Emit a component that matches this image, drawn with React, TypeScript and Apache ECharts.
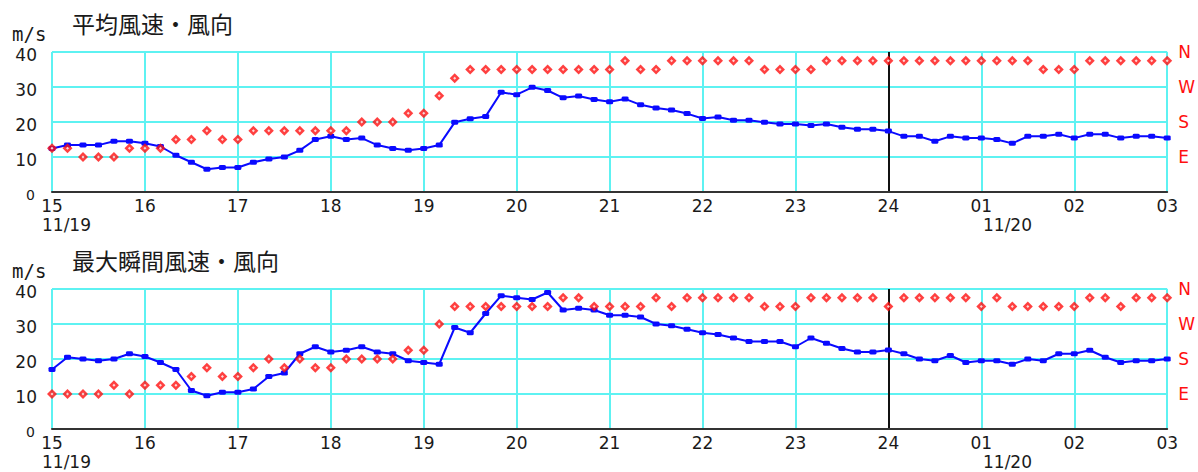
import React, { useEffect, useRef } from "react";
import * as echarts from "echarts";

// Hour tick labels (15:00 on 11/19 through 03:00 on 11/20)
const hourLabels = ["15", "16", "17", "18", "19", "20", "21", "22", "23", "24", "01", "02", "03"];
const minuteLabels = ["00", "10", "20", "30", "40", "50"];
const dateLabels = ["11/19", "11/20"];
const speedTicks = [0, 10, 20, 30, 40];
const dirNames: Record<number, string> = { 40: "N", 30: "W", 20: "S", 10: "E", 0: "" };

// 平均風速 (m/s), every 10 minutes
const avgSpeed = [
  12.4, 13.4, 13.4, 13.4, 14.5, 14.5, 13.9, 13.0, 10.5, 8.5,
  6.5, 7.0, 7.0, 8.5, 9.4, 10.0, 11.9, 15.0, 15.9, 15.0,
  15.4, 13.4, 12.4, 11.9, 12.4, 13.4, 19.9, 20.9, 21.6, 28.5,
  27.8, 29.9, 29.0, 26.9, 27.4, 26.4, 25.8, 26.6, 24.9, 24.0,
  23.4, 22.4, 21.0, 21.4, 20.5, 20.5, 19.9, 19.4, 19.4, 19.0,
  19.4, 18.5, 17.9, 17.9, 17.4, 15.9, 15.9, 14.5, 15.9, 15.4,
  15.4, 15.0, 13.9, 15.9, 15.9, 16.5, 15.4, 16.5, 16.5, 15.4,
  15.9, 15.9, 15.4,
];
// 平均風向 (E=10, S=20, W=30, N=40)
const avgDir = [
  12.5, 12.5, 10, 10, 10, 12.5, 12.5, 12.5, 15, 15,
  17.5, 15, 15, 17.5, 17.5, 17.5, 17.5, 17.5, 17.5, 17.5,
  20, 20, 20, 22.5, 22.5, 27.5, 32.5, 35, 35, 35,
  35, 35, 35, 35, 35, 35, 35, 37.5, 35, 35,
  37.5, 37.5, 37.5, 37.5, 37.5, 37.5, 35, 35, 35, 35,
  37.5, 37.5, 37.5, 37.5, 37.5, 37.5, 37.5, 37.5, 37.5, 37.5,
  37.5, 37.5, 37.5, 37.5, 35, 35, 35, 37.5, 37.5, 37.5,
  37.5, 37.5, 37.5,
];
// 最大瞬間風速 (m/s)
const gustSpeed = [
  17.0, 20.5, 20.0, 19.5, 20.0, 21.5, 20.7, 19.0, 17.0, 11.0,
  9.5, 10.5, 10.5, 11.4, 15.0, 16.0, 21.5, 23.5, 22.0, 22.5,
  23.5, 22.0, 21.5, 19.5, 19.0, 18.5, 29.0, 27.5, 33.0, 38.1,
  37.5, 37.0, 39.0, 34.0, 34.5, 34.0, 32.5, 32.5, 32.0, 30.0,
  29.5, 28.5, 27.5, 27.0, 26.0, 25.0, 25.0, 25.0, 23.5, 26.0,
  24.5, 23.0, 22.0, 22.0, 22.6, 21.5, 20.0, 19.5, 21.0, 19.0,
  19.5, 19.5, 18.5, 20.0, 19.5, 21.5, 21.5, 22.5, 20.5, 19.0,
  19.5, 19.5, 20.0,
];
// 最大瞬間風向
const gustDir = [
  10, 10, 10, 10, 12.5, 10, 12.5, 12.5, 12.5, 15,
  17.5, 15, 15, 17.5, 20, 17.5, 20, 17.5, 17.5, 20,
  20, 20, 20, 22.5, 22.5, 30, 35, 35, 35, 35,
  35, 35, 35, 37.5, 37.5, 35, 35, 35, 35, 37.5,
  35, 37.5, 37.5, 37.5, 37.5, 37.5, 35, 35, 35, 37.5,
  37.5, 37.5, 37.5, 37.5, 35, 37.5, 37.5, 37.5, 37.5, 37.5,
  35, 37.5, 35, 35, 35, 35, 35, 37.5, 37.5, 35,
  37.5, 37.5, 37.5,
];

const panelTitles = ["平均風速・風向", "最大瞬間風速・風向"];
const markerTime = "24:00";

const times: string[] = [];
for (let h = 0; h < hourLabels.length - 1; h++) {
  for (const m of minuteLabels) times.push(`${hourLabels[h]}:${m}`);
}
times.push(`${hourLabels[hourLabels.length - 1]}:00`);

const CYAN = "#5ef2f2";
const TXT = "#1a1a1a";
const FONT = "DejaVu Sans";
const RED = "#ff1010";
const BLUE = "#0a0aff";

export default function App() {
  const ref = useRef<HTMLDivElement>(null);
  useEffect(() => {
    if (!ref.current) return;
    const chart = echarts.init(ref.current, undefined, { renderer: "svg" });
    const grids = [
      { left: 52, width: 1121, top: 52, height: 140 },
      { left: 52, width: 1121, top: 289, height: 140 },
    ];
    const xAxes = grids.map((_, i) => ({
      type: "category",
      gridIndex: i,
      data: times,
      boundaryGap: false,
      axisLine: { show: true, lineStyle: { color: "#333", width: 2 } },
      axisTick: { show: false },
      axisLabel: {
        interval: 5,
        formatter: (v: string) => v.slice(0, 2),
        color: TXT,
        fontSize: 17,
        fontFamily: FONT,
        margin: 5,
      },
      splitLine: { show: true, interval: 5, lineStyle: { color: CYAN, width: 2 } },
      z: 3,
    }));
    const yAxes: any[] = [];
    grids.forEach((_, i) => {
      yAxes.push({
        type: "value",
        gridIndex: i,
        min: speedTicks[0],
        max: speedTicks[speedTicks.length - 1],
        interval: 10,
        axisLine: { show: false },
        axisTick: { show: false },
        splitLine: { show: true, lineStyle: { color: CYAN, width: 2 } },
        axisLabel: {
          color: TXT,
          fontSize: 17,
          fontFamily: FONT,
          margin: 15,
          padding: [6, 0, 0, 0],
          formatter: (v: number) => (v === 0 ? "{z|0}" : String(v)),
          rich: { z: { fontSize: 14, fontFamily: FONT, color: TXT, padding: [0, 2, 0, 0] } },
        },
      });
      yAxes.push({
        type: "value",
        gridIndex: i,
        position: "right",
        min: speedTicks[0],
        max: speedTicks[speedTicks.length - 1],
        interval: 10,
        axisLine: { show: false },
        axisTick: { show: false },
        splitLine: { show: false },
        axisLabel: {
          color: RED,
          fontSize: 17,
          fontFamily: FONT,
          margin: 11,
          padding: [7, 0, 0, 0],
          formatter: (v: number) => dirNames[v] ?? "",
        },
      });
    });
    const speeds = [avgSpeed, gustSpeed];
    const dirs = [avgDir, gustDir];
    const series: any[] = [];
    grids.forEach((_, i) => {
      series.push({
        type: "line",
        xAxisIndex: i,
        yAxisIndex: i * 2,
        data: speeds[i],
        showAllSymbol: true,
        symbol: "roundRect",
        symbolSize: [7, 5],
        lineStyle: { color: BLUE, width: 2 },
        itemStyle: { color: BLUE },
        z: 4,
        markLine: {
          silent: true,
          symbol: ["none", "none"],
          label: { show: false },
          lineStyle: { color: "#111", width: 2, type: "solid" },
          data: [{ xAxis: markerTime }],
          z: 3,
        },
      });
      series.push({
        type: "scatter",
        xAxisIndex: i,
        yAxisIndex: i * 2 + 1,
        data: dirs[i],
        symbol: "diamond",
        symbolSize: 10,
        itemStyle: { color: RED },
        z: 5,
      });
      series.push({
        type: "scatter",
        xAxisIndex: i,
        yAxisIndex: i * 2 + 1,
        data: dirs[i],
        symbol: "diamond",
        symbolSize: 3,
        itemStyle: { color: "#ffffff" },
        z: 6,
      });
    });
    const graphic: any[] = [];
    grids.forEach((g, i) => {
      graphic.push({
        type: "text",
        x: 72,
        y: g.top - 29,
        style: { text: panelTitles[i], fontSize: 23, fontFamily: "Noto Sans CJK JP", fill: TXT, verticalAlign: "middle", align: "left" },
      });
      graphic.push({
        type: "text",
        x: 12,
        y: g.top - 18,
        style: { text: "m/s", fontSize: 19, fontFamily: "DejaVu Sans Mono", fill: TXT, verticalAlign: "middle", align: "left" },
      });
      graphic.push({
        type: "text",
        x: 42,
        y: g.top + g.height + 33,
        style: { text: dateLabels[0], fontSize: 17, fontFamily: FONT, fill: TXT, verticalAlign: "middle", align: "left" },
      });
      graphic.push({
        type: "text",
        x: 983,
        y: g.top + g.height + 33,
        style: { text: dateLabels[1], fontSize: 17, fontFamily: FONT, fill: TXT, verticalAlign: "middle", align: "left" },
      });
    });
    chart.setOption({
      animation: false,
      backgroundColor: "#ffffff",
      grid: grids,
      xAxis: xAxes,
      yAxis: yAxes,
      series,
      graphic,
    });
    return () => chart.dispose();
  }, []);
  return (
    <div
      ref={ref}
      style={{ position: "fixed", left: 0, top: 0, width: 1198, height: 472, background: "#fff" }}
    />
  );
}
